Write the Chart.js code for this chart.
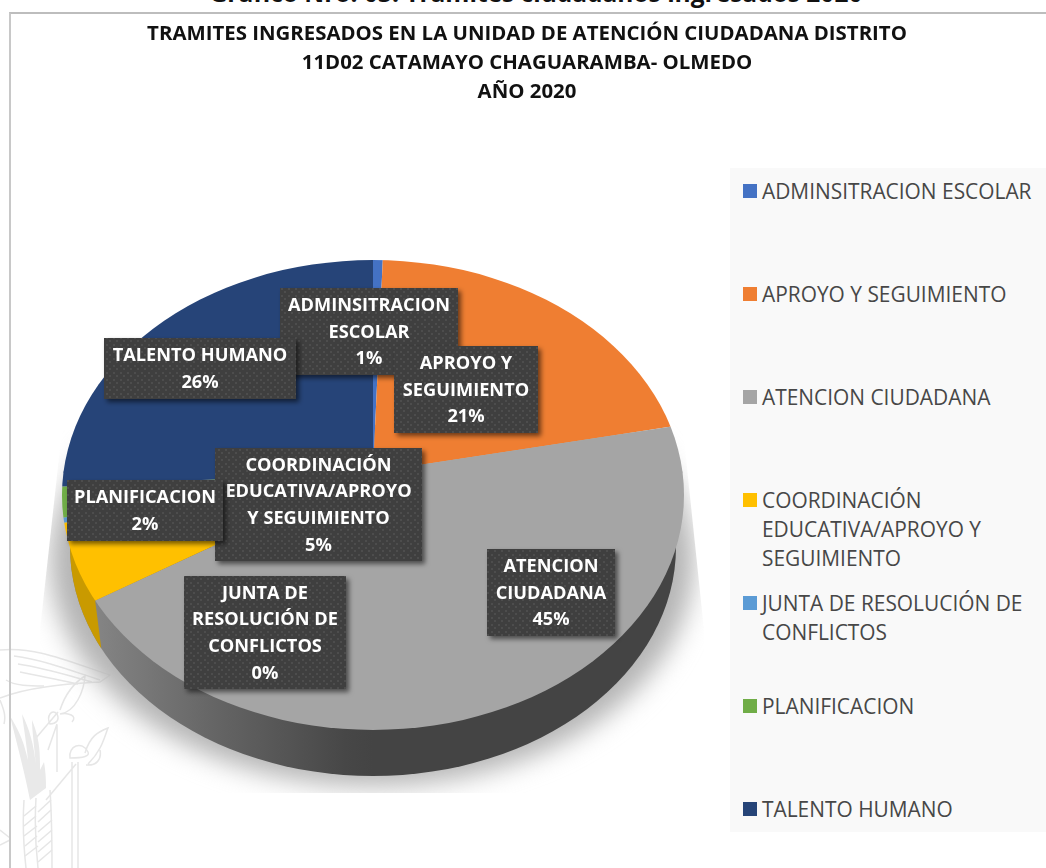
<!DOCTYPE html>
<html lang="es">
<head>
<meta charset="utf-8">
<title>Tramites ingresados 2020</title>
<style>
  html, body { margin: 0; padding: 0; background: #fff; }
  #page { position: relative; width: 1046px; height: 868px; overflow: hidden; }
  #heading {
    position: absolute; left: 13px; width: 1046px; top: -24px; text-align: center;
    font: bold 24.5px 'Open Sans', sans-serif; color: #111; white-space: nowrap;
  }
  #frame { position: absolute; left: 9px; top: 12px; right: 0; bottom: 0; border-left: 2px solid #c8c8c8; border-top: 2px solid #bdbdbd; }
  #crest { position: absolute; left: 0; top: 640px; }
  #legendBox { position: absolute; left: 730px; top: 168px; width: 316px; height: 664px; background: #f9f9f9; }
  .lg { position: absolute; left: 32px; font: 20.9px/29px 'Open Sans', sans-serif; color: #474747; white-space: pre; }
  .lg i { position: absolute; left: -19px; top: 7px; width: 14px; height: 14px; }
  canvas { position: absolute; left: 0; top: 0; }
</style>
</head>
<body>
<div id="page">
  <div id="heading">Grafico Nro. 03. Tramites ciudadanos ingresados 2020</div>
  <!-- faint crest printed behind the chart on the source page -->
  <svg id="crest" width="130" height="228" fill="none" stroke="#e6e6e6" stroke-width="1.5">
    <path d="M0 10 C35 6 70 22 110 35 L100 42 C70 44 30 46 0 58"/>
    <path d="M14 16 C45 20 75 32 100 40M18 24 C45 28 70 36 92 42M20 32 C40 36 60 40 78 44M6 40 C15 46 30 46 44 46"/>
    <path d="M57 85 V132M72 122 V228M78 122 V228M46 160 L76 124M36 98 L58 72M48 110 L57 84"/>
    <path d="M60 70 C64 58 72 44 85 36 C84 50 76 72 60 74 M72 82 C78 76 68 72 60 74"/>
    <path d="M85 113 C90 96 98 92 108 88 C104 98 102 110 88 124 M100 110 C102 120 96 126 86 125"/>
    <path d="M70 118 C68 106 82 100 88 112 C90 116 84 118 70 118Z M50 84 C46 76 52 68 57 74 C60 80 56 84 50 84Z"/>
    <path d="M24 160 C22 190 24 210 26 228M36 158 C34 190 36 210 38 228M50 150 C52 180 52 210 52 228"/>
    <path d="M24 176 L36 166M24 186 L36 176M24 196 L37 186M25 206 L37 196M25 216 L38 206M38 172 L51 160M38 182 L51 170M38 192 L52 180M38 202 L52 190M38 212 L52 200M38 222 L52 210"/>
    <path d="M0 190 L10 198 M0 205 L10 200 M0 60 C4 70 6 76 4 84"/>
    <path fill="#e9e9e9" stroke="none" d="M30 160 C24 130 16 100 10 76 C22 96 24 104 28 120 C26 100 24 90 22 74 C30 90 34 106 36 126 C34 104 32 90 32 80 C40 100 40 112 40 130 L44 122 C46 134 46 142 46 148 Z"/>
  </svg>
  <div id="frame"></div>
  <div id="legendBox"></div>
  <canvas id="pie" width="1046" height="868"></canvas>
</div>
<script src="https://cdn.jsdelivr.net/npm/chart.js@4"></script>
<script>
/* ---------- data (% of all tramites) ---------- */
var categories = ['ADMINSITRACION ESCOLAR', 'APROYO Y SEGUIMIENTO', 'ATENCION CIUDADANA',
  'COORDINACIÓN EDUCATIVA/APROYO Y SEGUIMIENTO', 'JUNTA DE RESOLUCIÓN DE CONFLICTOS',
  'PLANIFICACION', 'TALENTO HUMANO'];
var shares = [0.5, 21, 45.4, 5, 0.3, 1.9, 25.9];
var titleLines = ['TRAMITES INGRESADOS EN LA UNIDAD DE ATENCIÓN CIUDADANA DISTRITO',
  '11D02 CATAMAYO CHAGUARAMBA- OLMEDO', 'AÑO 2020'];

/* where the text wraps */
var labelLines = [['ADMINSITRACION', 'ESCOLAR'], ['APROYO Y', 'SEGUIMIENTO'], ['ATENCION', 'CIUDADANA'],
  ['COORDINACIÓN', 'EDUCATIVA/APROYO', 'Y SEGUIMIENTO'], ['JUNTA DE', 'RESOLUCIÓN DE', 'CONFLICTOS'],
  ['PLANIFICACION'], ['TALENTO HUMANO']];
var legendLines = [['ADMINSITRACION ESCOLAR'], ['APROYO Y SEGUIMIENTO'], ['ATENCION CIUDADANA'],
  ['COORDINACIÓN', 'EDUCATIVA/APROYO Y', 'SEGUIMIENTO'], ['JUNTA DE RESOLUCIÓN DE', 'CONFLICTOS'],
  ['PLANIFICACION'], ['TALENTO HUMANO']];

var sliceColors = ['#4472c4', '#ef7e32', '#a5a5a5', '#ffc000', '#5b9bd5', '#70ad47', '#264478'];

/* ---------- layout of the tilted pie ---------- */
var TILT = {
  cx: 373, cy: 495, rx: 311, ry: 235,          /* outline of the top face */
  apexY: 472, upK: 212 / 311, downK: 258 / 311, /* perspective: slices meet above the middle */
  over: 1.3,
  wall: { cy: 547, rx: 303, ry: 229 }           /* bottom rim */
};
/* label boxes, placed by hand like the original: x, y, w, h */
var labelBoxes = [[280, 288, 178, 87], [394, 346, 144, 87], [487, 549, 128, 87], [215, 448, 207, 113],
  [184, 576, 162, 113], [67, 480, 156, 61], [104, 338, 192, 61]];

var LEGEND_TOP = 9, LEGEND_STEP = 103;

/* ---------- legend ---------- */
var legendBox = document.getElementById('legendBox');
categories.forEach(function (name, i) {
  var d = document.createElement('div');
  d.className = 'lg';
  d.style.top = (LEGEND_TOP + i * LEGEND_STEP) + 'px';
  d.textContent = legendLines[i].join('\n');
  var sw = document.createElement('i');
  sw.style.background = sliceColors[i];
  d.appendChild(sw);
  legendBox.appendChild(d);
});

/* ---------- plugin: squash the round pie into the tilted one ---------- */
function faceClip(ctx, fromY, toY) {
  ctx.beginPath();
  ctx.ellipse(TILT.cx, TILT.cy, TILT.rx, TILT.ry, 0, 0, Math.PI * 2);
  ctx.clip();
  ctx.beginPath();
  ctx.rect(0, fromY, 1046, toY - fromY);
  ctx.clip();
}
function faceTransform(ctx, arc, k) {
  var s = TILT.over * TILT.rx / arc.outerRadius;
  ctx.translate(TILT.cx, TILT.apexY);
  ctx.scale(s, s * k);
  ctx.translate(-arc.x, -arc.y);
}
/* where a slice edge meets the rim of the top face */
function rimPoint(angle) {
  var dx = Math.cos(angle), dy = Math.sin(angle) * (Math.sin(angle) > 0 ? TILT.downK : TILT.upK);
  var y0 = TILT.apexY - TILT.cy;
  var a = dx * dx / (TILT.rx * TILT.rx) + dy * dy / (TILT.ry * TILT.ry);
  var b = 2 * y0 * dy / (TILT.ry * TILT.ry);
  var c = y0 * y0 / (TILT.ry * TILT.ry) - 1;
  var t = (-b + Math.sqrt(b * b - 4 * a * c)) / (2 * a);
  return { x: TILT.cx + dx * t, y: TILT.apexY + dy * t };
}
function drawShadow(ctx) {
  ctx.save();
  ctx.beginPath();
  ctx.moveTo(62, 430); ctx.lineTo(40, 630); ctx.lineTo(40, 793);
  ctx.lineTo(704, 793); ctx.lineTo(704, 630); ctx.lineTo(682, 420);
  ctx.closePath();
  ctx.clip();
  ctx.filter = 'blur(13px)';
  ctx.fillStyle = '#b4b4b4';
  ctx.beginPath();
  ctx.ellipse(372, 560, 322, 226, 0, 0, Math.PI * 2);
  ctx.fill();
  ctx.restore();
}
function drawWall(ctx, meta) {
  var w = TILT.wall;
  var grad = ctx.createLinearGradient(93, 0, 373, 0);
  grad.addColorStop(0, '#858585');
  grad.addColorStop(0.45, '#646464');
  grad.addColorStop(0.9, '#474747');
  grad.addColorStop(1, '#444444');
  ctx.save();
  ctx.fillStyle = grad;
  ctx.beginPath();
  ctx.ellipse(TILT.cx, w.cy, w.rx, w.ry, 0, 0, Math.PI);
  ctx.closePath();
  ctx.fill();
  /* the yellow slice keeps its colour on the wall, left of its edge */
  var p = rimPoint(meta.data[3].startAngle);
  ctx.beginPath();
  ctx.moveTo(p.x, 400);
  ctx.lineTo(p.x, p.y);
  ctx.lineTo(p.x + 6, p.y + 47);
  ctx.lineTo(p.x + 6, 800);
  ctx.lineTo(0, 800);
  ctx.lineTo(0, 400);
  ctx.closePath();
  ctx.clip();
  ctx.fillStyle = '#c99a00';
  ctx.beginPath();
  ctx.ellipse(TILT.cx, w.cy, w.rx, w.ry, 0, 0, Math.PI);
  ctx.closePath();
  ctx.fill();
  ctx.restore();
}
function dotPattern(ctx) {
  var c = document.createElement('canvas');
  c.width = 7; c.height = 7;
  var g = c.getContext('2d');
  g.fillStyle = '#3f3f3f';
  g.fillRect(0, 0, 7, 7);
  g.fillStyle = '#4d4d4d';
  g.fillRect(1, 1, 2, 2);
  g.fillRect(4, 4, 2, 2);
  return ctx.createPattern(c, 'repeat');
}
function drawLabels(ctx) {
  var fill = dotPattern(ctx);
  categories.forEach(function (name, i) {
    var b = labelBoxes[i];
    var lines = labelLines[i].concat(Math.round(shares[i]) + '%');
    ctx.save();
    ctx.shadowColor = 'rgba(0,0,0,0.55)';
    ctx.shadowBlur = 5;
    ctx.shadowOffsetX = 3;
    ctx.shadowOffsetY = 3;
    ctx.fillStyle = fill;
    ctx.fillRect(b[0], b[1], b[2], b[3]);
    ctx.restore();
    ctx.save();
    ctx.beginPath();
    ctx.rect(b[0], b[1], b[2], b[3]);
    ctx.clip();
    ctx.fillStyle = '#fff';
    ctx.font = "bold 18.2px 'Open Sans', sans-serif";
    ctx.textAlign = 'center';
    ctx.textBaseline = 'middle';
    var top = b[1] + b[3] / 2 + 1 - (lines.length - 1) * 13.35;
    lines.forEach(function (t, n) {
      ctx.fillText(t, b[0] + b[2] / 2, top + n * 26.7);
    });
    ctx.restore();
  });
}

var tiltedPie = {
  id: 'tiltedPie',
  beforeDatasetsDraw: function (chart) {
    var meta = chart.getDatasetMeta(0), ctx = chart.ctx;
    drawShadow(ctx);
    drawWall(ctx, meta);
    ctx.save();
    faceClip(ctx, 0, TILT.apexY + 0.5);
    faceTransform(ctx, meta.data[0], TILT.upK);
  },
  afterDatasetsDraw: function (chart) {
    var meta = chart.getDatasetMeta(0), ctx = chart.ctx;
    ctx.restore();
    /* second pass for the nearer half, which is stretched more */
    ctx.save();
    faceClip(ctx, TILT.apexY - 0.5, 868);
    faceTransform(ctx, meta.data[0], TILT.downK);
    meta.controller.draw();
    ctx.restore();
    drawLabels(ctx);
  }
};

new Chart(document.getElementById('pie'), {
  type: 'pie',
  data: {
    labels: categories,
    datasets: [{ data: shares, backgroundColor: sliceColors, borderWidth: 0 }]
  },
  options: {
    responsive: false,
    animation: false,
    layout: { padding: { left: 8, top: 17 } },
    plugins: {
      legend: { display: false },
      tooltip: { enabled: false },
      title: {
        display: true,
        text: titleLines,
        color: '#111',
        font: { family: "'Open Sans', sans-serif", size: 20.4, weight: 'bold', lineHeight: 1.42 },
        padding: { top: 3, bottom: 0 }
      }
    }
  },
  plugins: [tiltedPie]
});
</script>
</body>
</html>
